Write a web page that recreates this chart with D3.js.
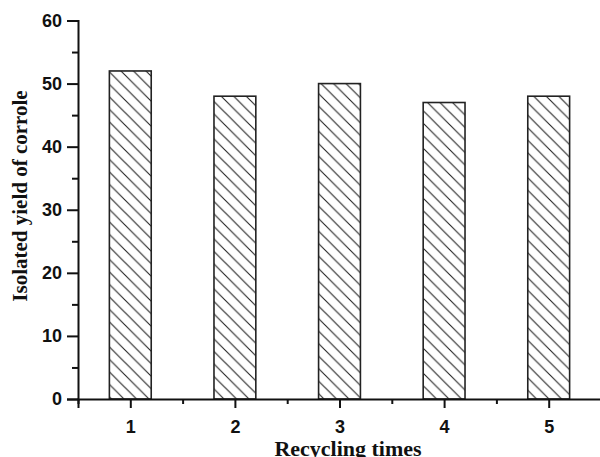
<!DOCTYPE html>
<html><head><meta charset="utf-8">
<script src="https://cdn.jsdelivr.net/npm/d3@7"></script>
<style>html,body{margin:0;padding:0;background:#fff;overflow:hidden}</style>
</head><body>
<svg id="c" width="600" height="457"></svg>
<script>
const categories = [1, 2, 3, 4, 5];
const yields = [52, 48, 50, 47, 48];
const yTicks = [0, 10, 20, 30, 40, 50, 60];
const yMinorTicks = [5, 15, 25, 35, 45, 55];
const xMinorTicks = [0.5, 1.5, 2.5, 3.5, 4.5, 5.5];
const xTitle = "Recycling times";
const yTitle = "Isolated yield of corrole";

const svg = d3.select("#c");
const x = d3.scaleLinear().domain([0.5, 5.5]).range([78, 601]);
const y = d3.scaleLinear().domain([0, 60]).range([399, 20.5]);

const defs = svg.append("defs");
const pat = defs.append("pattern").attr("id", "hatch").attr("patternUnits", "userSpaceOnUse")
  .attr("width", 12.5).attr("height", 12.5);
pat.append("path").attr("d", "M-3,-3 L15.5,15.5 M-3,9.5 L3,15.5 M9.5,-3 L15.5,3")
  .attr("stroke", "#222").attr("stroke-width", 1.1);

const barW = x(1.4) - x(1);
svg.append("g").selectAll("rect").data(categories).join("rect")
  .attr("x", (d) => x(d) - barW / 2)
  .attr("y", (d, i) => y(yields[i]))
  .attr("width", barW)
  .attr("height", (d, i) => y(0) - y(yields[i]))
  .attr("fill", "url(#hatch)")
  .attr("stroke", "#222").attr("stroke-width", 1.6);

// y axis
const yAxis = d3.axisLeft(y).tickValues(yTicks).tickSize(11).tickPadding(5).tickFormat(d3.format("d"));
const gy = svg.append("g").attr("transform", `translate(${x(0.5)},0)`).call(yAxis);
gy.select(".domain").attr("stroke", "#111").attr("stroke-width", 2);
gy.selectAll(".tick line").attr("stroke", "#111").attr("stroke-width", 2);
gy.selectAll(".tick text").attr("font-family", "Liberation Sans, Arial, sans-serif")
  .attr("font-weight", "bold").attr("font-size", 18).attr("fill", "#111");
const gym = svg.append("g").attr("transform", `translate(${x(0.5)},0)`)
  .call(d3.axisLeft(y).tickValues(yMinorTicks).tickSize(6).tickFormat(""));
gym.select(".domain").remove();
gym.selectAll(".tick line").attr("stroke", "#111").attr("stroke-width", 2);

// x axis
const xAxis = d3.axisBottom(x).tickValues(categories).tickSize(9).tickPadding(12).tickFormat(d3.format("d"));
const gx = svg.append("g").attr("transform", `translate(0,${y(0)})`).call(xAxis);
gx.select(".domain").attr("stroke", "#111").attr("stroke-width", 2);
gx.selectAll(".tick line").attr("stroke", "#111").attr("stroke-width", 2);
gx.selectAll(".tick text").attr("font-family", "Liberation Sans, Arial, sans-serif")
  .attr("font-weight", "bold").attr("font-size", 18).attr("fill", "#111");
const gxm = svg.append("g").attr("transform", `translate(0,${y(0)})`)
  .call(d3.axisBottom(x).tickValues(xMinorTicks).tickSize(5).tickFormat(""));
gxm.select(".domain").remove();
gxm.selectAll(".tick line").attr("stroke", "#111").attr("stroke-width", 2);

svg.append("text").attr("x", 348).attr("y", 456)
  .attr("text-anchor", "middle").attr("font-family", "Liberation Serif, Times New Roman, serif")
  .attr("font-weight", "bold").attr("font-size", 22).attr("fill", "#111").text(xTitle);

svg.append("text").attr("transform", "translate(27,196) rotate(-90)")
  .attr("text-anchor", "middle").attr("font-family", "Liberation Serif, Times New Roman, serif")
  .attr("font-weight", "bold").attr("font-size", 21).attr("fill", "#111").text(yTitle);
</script>
</body></html>
